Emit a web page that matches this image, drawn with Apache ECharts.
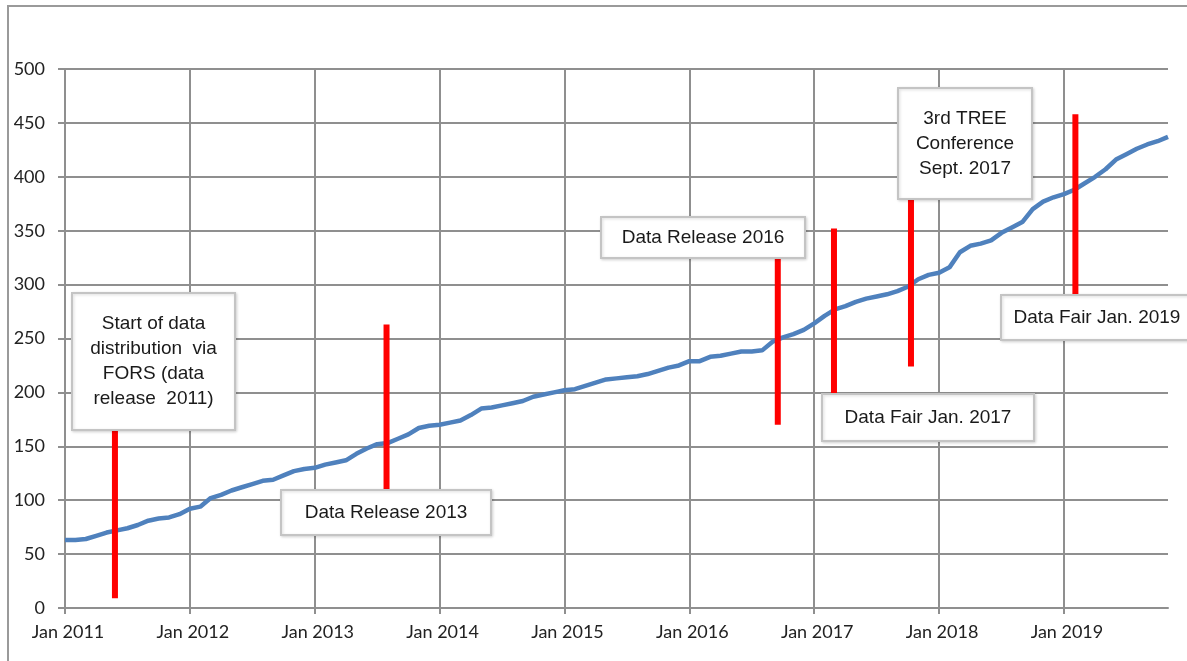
<!DOCTYPE html>
<html lang="en" style="height: 100%">
<head>
    <meta http-equiv="Content-Type" content="text/html; charset=utf-8"/>
    <title>FORS data</title>
    <script type="text/javascript" src="https://cdn.jsdelivr.net/npm/echarts@6/dist/echarts.min.js"></script>
</head>
<body style="height: 100%; margin: 0; background: #fff">
<div id="container" style="width: 1187px; height: 661px"></div>
<script type="text/javascript">
    // monthly totals, Jan 2011 .. Nov 2019
    var startYear = 2011;
    var values = [
        63, 63, 64, 67, 70, 72, 74, 77, 81, 83, 84, 87,
        92, 94, 102, 105, 109, 112, 115, 118, 119, 123, 127, 129,
        130, 133, 135, 137, 143, 148, 152, 153, 157, 161, 167, 169,
        170, 172, 174, 179, 185, 186, 188, 190, 192, 196, 198, 200,
        202, 203, 206, 209, 212, 213, 214, 215, 217, 220, 223, 225,
        229, 229, 233, 234, 236, 238, 238, 239, 247, 251, 254, 258,
        264, 271, 277, 280, 284, 287, 289, 291, 294, 298, 305, 309,
        311, 316, 330, 336, 338, 341, 348, 353, 358, 370, 377, 381,
        384, 388, 394, 400, 407, 416, 421, 426, 430, 433, 437
    ];
    var monthNames = ['Jan', 'Feb', 'Mar', 'Apr', 'May', 'Jun', 'Jul', 'Aug', 'Sep', 'Oct', 'Nov', 'Dec'];
    var categories = [];
    for (var i = 0; i < values.length; i++) {
        categories.push(monthNames[i % 12] + ' ' + (startYear + Math.floor(i / 12)));
    }

    // red event bars: month index (from Jan 2011), low and high value
    var eventMonth = [4.8, 30.9, 68.5, 73.9, 81.3, 97.1];
    var eventLow = [9, 110, 170, 198, 224, 290];
    var eventHigh = [165, 263, 326, 352, 382, 458];

    // annotation boxes
    var notes = [
        {x: 72, y: 293, w: 163, h: 137, text: 'Start of data\ndistribution  via\nFORS (data\nrelease  2011)'},
        {x: 281, y: 490, w: 210, h: 45, text: 'Data Release 2013'},
        {x: 601, y: 217, w: 204, h: 41, text: 'Data Release 2016'},
        {x: 822, y: 394, w: 212, h: 47, text: 'Data Fair Jan. 2017'},
        {x: 898, y: 88, w: 134, h: 111, text: '3rd TREE\nConference\nSept. 2017'},
        {x: 1001, y: 295, w: 192, h: 45, text: 'Data Fair Jan. 2019'}
    ];

    var gridColor = '#8f8f8f';
    var axisFont = {fontFamily: 'Lato', fontSize: 18, color: '#222'};

    var series = [{
        type: 'line',
        data: values,
        xAxisIndex: 0,
        showSymbol: false,
        symbol: 'none',
        lineStyle: {color: '#4F81BD', width: 4.5},
        z: 3
    }];
    for (var k = 0; k < eventMonth.length; k++) {
        series.push({
            type: 'line',
            xAxisIndex: 1,
            data: [[eventMonth[k], eventLow[k]], [eventMonth[k], eventHigh[k]]],
            symbol: 'none',
            lineStyle: {color: '#FF0000', width: 6, cap: 'butt'},
            z: 4
        });
    }

    var graphics = [{
        type: 'rect',
        shape: {x: 8, y: 6, width: 1300, height: 800},
        style: {fill: 'none', stroke: '#9a9a9a', lineWidth: 2},
        z: 0
    }];
    notes.forEach(function (n) {
        graphics.push({
            type: 'rect',
            shape: {x: n.x, y: n.y, width: n.w, height: n.h},
            style: {fill: '#fff', stroke: '#c4c4c4', lineWidth: 2,
                shadowBlur: 3, shadowColor: 'rgba(0,0,0,0.15)', shadowOffsetX: 1, shadowOffsetY: 1},
            z: 100
        });
        graphics.push({
            type: 'text',
            x: n.x + n.w / 2,
            y: n.y + n.h / 2,
            style: {
                text: n.text,
                align: 'center',
                verticalAlign: 'middle',
                fontFamily: 'Liberation Sans',
                fontSize: 19,
                lineHeight: 25,
                fill: '#1a1a1a'
            },
            z: 101
        });
    });

    var myChart = echarts.init(document.getElementById('container'));
    var option = {
        animation: false,
        backgroundColor: '#fff',
        grid: {left: 65, right: 19, top: 69, bottom: 53},
        xAxis: [{
            type: 'category',
            data: categories,
            boundaryGap: false,
            axisLine: {lineStyle: {color: gridColor, width: 2}},
            axisTick: {interval: 11, length: 6, lineStyle: {color: gridColor, width: 2}},
            axisLabel: Object.assign({interval: 11, margin: 15, padding: [0, 0, 0, 6]}, axisFont),
            splitLine: {show: true, interval: 11, lineStyle: {color: gridColor, width: 2}}
        }, {
            type: 'value',
            min: 0,
            max: values.length - 1,
            show: false
        }],
        yAxis: {
            type: 'value',
            min: 0,
            max: 500,
            interval: 50,
            axisLine: {show: true, lineStyle: {color: gridColor, width: 2}},
            axisTick: {show: true, length: 7, lineStyle: {color: gridColor, width: 2}},
            axisLabel: Object.assign({margin: 20}, axisFont),
            splitLine: {lineStyle: {color: gridColor, width: 2}}
        },
        series: series,
        graphic: graphics
    };
    myChart.setOption(option);
</script>
</body>
</html>
